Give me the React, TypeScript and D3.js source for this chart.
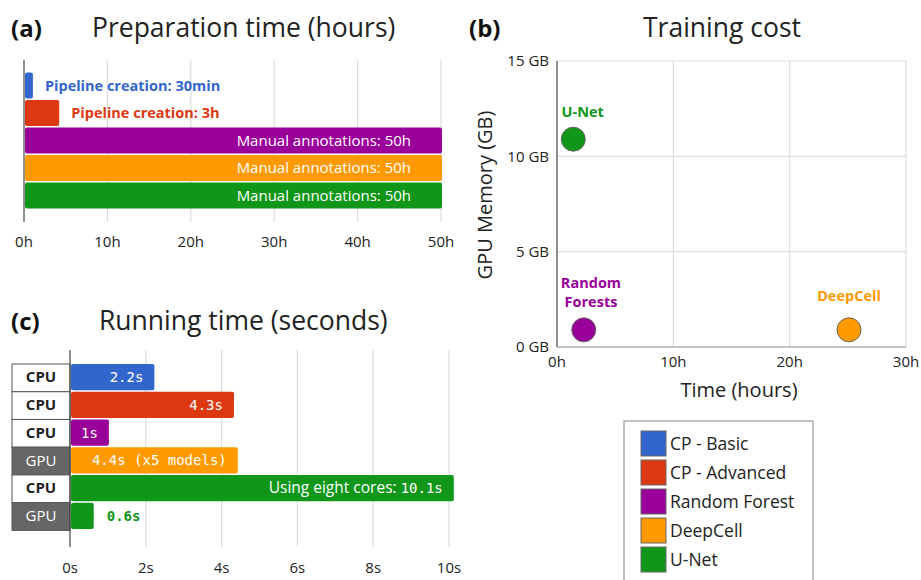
import * as d3 from "d3";

// (a) preparation time
const prepCats = ["CP - Basic", "CP - Advanced", "Random Forest", "DeepCell", "U-Net"];
const prepHours = [0.95, 4.1, 50, 50, 50];
const prepLabels = [
	"Pipeline creation: 30min",
	"Pipeline creation: 3h",
	"Manual annotations: 50h",
	"Manual annotations: 50h",
	"Manual annotations: 50h",
];
const prepTicks = [0, 10, 20, 30, 40, 50];

// (b) training cost
const trainModels = ["U-Net", "Random Forest", "DeepCell"];
const trainHours = [1.4, 2.3, 25.1];
const trainGB = [10.9, 0.9, 0.9];
const trainLabels = [["U-Net"], ["Random", "Forests"], ["DeepCell"]];
const trainXTicks = [0, 10, 20, 30];
const trainYTicks = [0, 5, 10, 15];

// (c) running time
const runCats = ["CP - Basic", "CP - Advanced", "Random Forest", "DeepCell", "U-Net", "U-Net"];
const runDevice = ["CPU", "CPU", "CPU", "GPU", "CPU", "GPU"];
const runSeconds = [2.2, 4.3, 1, 4.4, 10.1, 0.6];
const runPrefix = ["", "", "", "", "Using eight cores: ", ""];
const runLabels = ["2.2s", "4.3s", "1s", "4.4s (x5 models)", "10.1s", "0.6s"];
const runTicks = [0, 2, 4, 6, 8, 10];

const legendNames = ["CP - Basic", "CP - Advanced", "Random Forest", "DeepCell", "U-Net"];
const colors = ["#3366cc", "#dc3912", "#990099", "#ff9900", "#109618"];

const color = d3.scaleOrdinal<string, string>(colors).domain(legendNames);
const font = "'Open Sans', Lato, sans-serif";
const mono = "'DejaVu Sans Mono', monospace";
const grid = "#dddddd";
const titleSize = 26.5;
const tickSize = 15;

function PanelA() {
	const x = d3.scaleLinear().domain([0, 50]).range([24, 441]);
	const idx = d3.range(prepCats.length);
	const y = d3
		.scaleBand<number>()
		.domain(idx)
		.range([72.5, 208.5])
		.paddingInner(0.06);
	return (
		<g>
			<text x={11} y={37} fontSize={24} fontWeight={700} fill="#111">(a)</text>
			<text x={92} y={37} fontSize={titleSize} fill="#222">Preparation time (hours)</text>
			{prepTicks.map((t) => (
				<g key={t}>
					{t > 0 && <line x1={x(t)} x2={x(t)} y1={60} y2={222} stroke={grid} strokeWidth={1.2} />}
					<text x={x(t)} y={247} fontSize={tickSize} textAnchor="middle" fill="#222">{t}h</text>
				</g>
			))}
			{idx.map((i) => {
				const w = x(prepHours[i]) - x(0);
				const inside = prepHours[i] > 20;
				return (
					<g key={i}>
						<rect x={x(0) + 1} y={y(i)} width={w} height={y.bandwidth()} rx={2} fill={color(prepCats[i])} />
						<text
							x={inside ? x(prepHours[i]) - 30 : x(prepHours[i]) + 13}
							y={(y(i) ?? 0) + y.bandwidth() / 2}
							dy="0.35em"
							fontSize={inside ? 15 : 14.5}
							fontWeight={inside ? 400 : 700}
							textAnchor={inside ? "end" : "start"}
							fill={inside ? "#fff" : color(prepCats[i])}
						>
							{prepLabels[i]}
						</text>
					</g>
				);
			})}
			<line x1={x(0)} x2={x(0)} y1={60} y2={222} stroke="#444" strokeWidth={1.2} />
		</g>
	);
}

function PanelB() {
	const x = d3.scaleLinear().domain([0, 30]).range([557, 906]);
	const y = d3.scaleLinear().domain([0, 15]).range([347, 61]);
	const labelY = [[111.5], [283, 302], [296]];
	const labelX = [561.5, 591, 849];
	const anchors = ["start", "middle", "middle"];
	return (
		<g>
			<text x={469} y={37} fontSize={24} fontWeight={700} fill="#111">(b)</text>
			<text x={722} y={37} fontSize={titleSize} textAnchor="middle" fill="#222">Training cost</text>
			{trainXTicks.map((t) => (
				<g key={"x" + t}>
					{t > 0 && <line x1={x(t)} x2={x(t)} y1={y(15)} y2={y(0)} stroke={grid} strokeWidth={1.2} />}
					<text x={x(t)} y={367} fontSize={tickSize} textAnchor="middle" fill="#222">{t}h</text>
				</g>
			))}
			{trainYTicks.map((t) => (
				<g key={"y" + t}>
					{t > 0 && <line x1={x(0)} x2={x(30)} y1={y(t)} y2={y(t)} stroke={grid} strokeWidth={1.2} />}
					<text x={549} y={y(t)} dy="0.35em" fontSize={tickSize} textAnchor="end" fill="#222">{t} GB</text>
				</g>
			))}
			<line x1={x(0)} x2={x(0)} y1={y(15)} y2={y(0)} stroke="#444" strokeWidth={1.2} />
			<line x1={x(0)} x2={x(30)} y1={y(0)} y2={y(0)} stroke="#888" strokeWidth={1.2} />
			{trainModels.map((m, i) => (
				<g key={m}>
					<circle cx={x(trainHours[i])} cy={y(trainGB[i])} r={12} fill={color(m)} stroke="#666" strokeWidth={1} />
					{trainLabels[i].map((l, j) => (
						<text
							key={l}
							x={labelX[i]}
							y={labelY[i][j]}
							dy="0.35em"
							fontSize={14.5}
							fontWeight={700}
							textAnchor={anchors[i]}
							fill={color(m)}
						>
							{l}
						</text>
					))}
				</g>
			))}
			<text x={739} y={397} fontSize={20} textAnchor="middle" fill="#222">Time (hours)</text>
			<text transform="translate(492,195) rotate(-90)" fontSize={20} textAnchor="middle" fill="#222">GPU Memory (GB)</text>
		</g>
	);
}

function PanelC() {
	const x = d3.scaleLinear().domain([0, 10]).range([70, 449]);
	const idx = d3.range(runCats.length);
	const y = d3
		.scaleBand<number>()
		.domain(idx)
		.range([364, 529])
		.paddingInner(0.05);
	const step = y.step();
	return (
		<g>
			<text x={11} y={330} fontSize={24} fontWeight={700} fill="#111">(c)</text>
			<text x={99} y={330} fontSize={titleSize} fill="#222">Running time (seconds)</text>
			{runTicks.map((t) => (
				<g key={t}>
					{t > 0 && <line x1={x(t)} x2={x(t)} y1={350} y2={547} stroke={grid} strokeWidth={1.2} />}
					<text x={x(t)} y={573} fontSize={tickSize} textAnchor="middle" fill="#222">{t}s</text>
				</g>
			))}
			{idx.map((i) => {
				const y0 = y(i) ?? 0;
				const inside = runSeconds[i] > 0.8;
				const gpu = runDevice[i] === "GPU";
				const cy = y0 + y.bandwidth() / 2;
				return (
					<g key={i}>
						<rect x={12} y={y0} width={58} height={step} fill={gpu ? "#666" : "#fff"} stroke="#555" strokeWidth={1} />
						<text x={41} y={cy} dy="0.35em" fontSize={15} fontWeight={gpu ? 400 : 700} textAnchor="middle" fill={gpu ? "#fff" : "#222"}>
							{runDevice[i]}
						</text>
						<rect x={x(0) + 1} y={y0} width={x(runSeconds[i]) - x(0)} height={y.bandwidth()} rx={2} fill={color(runCats[i])} />
						<text
							x={inside ? x(runSeconds[i]) - 10 : x(runSeconds[i]) + 14}
							y={cy}
							dy="0.35em"
							fontSize={14}
							textAnchor={inside ? "end" : "start"}
							fill={inside ? "#fff" : color(runCats[i])}
							fontWeight={inside ? 400 : 700}
						>
							{runPrefix[i] && <tspan fontFamily={font} fontSize={15.5}>{runPrefix[i]}</tspan>}
							<tspan fontFamily={mono}>{runLabels[i]}</tspan>
						</text>
					</g>
				);
			})}
			<line x1={x(0)} x2={x(0)} y1={350} y2={547} stroke="#444" strokeWidth={1.2} />
		</g>
	);
}

function Legend() {
	return (
		<g>
			<rect x={624} y={421} width={189} height={170} fill="#fff" stroke="#999" strokeWidth={1.2} />
			{legendNames.map((n, i) => (
				<g key={n} transform={`translate(641, ${431 + i * 29})`}>
					<rect width={25} height={25} fill={color(n)} stroke="#666" strokeWidth={1} />
					<text x={29} y={13} dy="0.35em" fontSize={17.5} fill="#222">{n}</text>
				</g>
			))}
		</g>
	);
}

export default function App() {
	return (
		<svg
			width={921}
			height={580}
			style={{ position: "absolute", left: 0, top: 0, background: "#fff" }}
			fontFamily={font}
		>
			<rect width={921} height={580} fill="#fff" />
			<PanelA />
			<PanelB />
			<PanelC />
			<Legend />
		</svg>
	);
}
